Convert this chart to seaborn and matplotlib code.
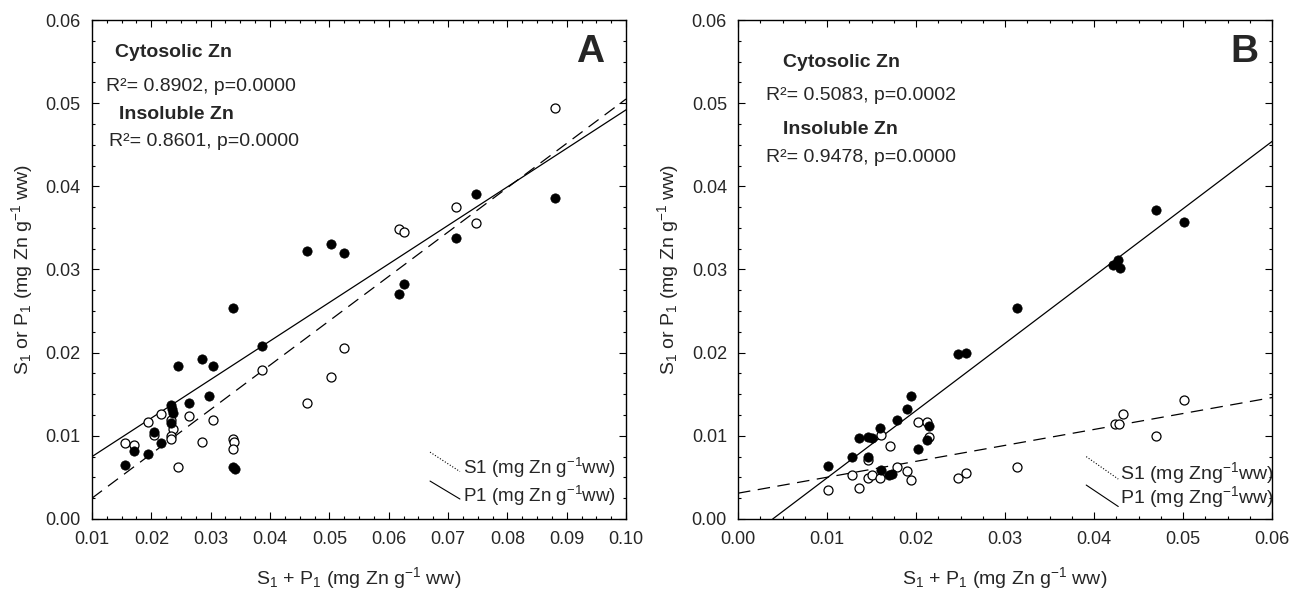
import numpy as np
import pandas as pd
import matplotlib
matplotlib.use("Agg")
import matplotlib.pyplot as plt
from matplotlib.ticker import MultipleLocator, FormatStrFormatter
import seaborn as sns

# Panel A data (filled = cytosolic S1, open = insoluble P1)
a_fill_x = [0.0156, 0.0171, 0.0195, 0.0205, 0.0217, 0.0233, 0.0235, 0.0236, 0.0233,
            0.0245, 0.0264, 0.0285, 0.0297, 0.0304, 0.0337, 0.0338, 0.0341, 0.0387,
            0.0462, 0.0502, 0.0524, 0.0617, 0.0626, 0.0713, 0.0747, 0.0880]
a_fill_y = [0.0065, 0.0082, 0.0078, 0.0104, 0.0091, 0.0137, 0.0132, 0.0127, 0.0115,
            0.0184, 0.0139, 0.0192, 0.0148, 0.0184, 0.0254, 0.0062, 0.0060, 0.0208,
            0.0322, 0.0331, 0.0320, 0.0270, 0.0283, 0.0338, 0.0391, 0.0386]
a_open_x = [0.0155, 0.0171, 0.0195, 0.0205, 0.0217, 0.0233, 0.0237, 0.0233, 0.0233,
            0.0245, 0.0264, 0.0285, 0.0304, 0.0338, 0.0339, 0.0338, 0.0387, 0.0462,
            0.0502, 0.0524, 0.0617, 0.0626, 0.0713, 0.0747, 0.0880]
a_open_y = [0.0091, 0.0089, 0.0117, 0.0101, 0.0126, 0.0119, 0.0108, 0.0100, 0.0096,
            0.0062, 0.0124, 0.0093, 0.0119, 0.0096, 0.0093, 0.0084, 0.0179, 0.0139,
            0.0171, 0.0206, 0.0349, 0.0345, 0.0375, 0.0356, 0.0494]
a_line_x = [0.01, 0.10]
a_solid_y = [0.0075, 0.0492]
a_dash_y = [0.0025, 0.0505]

# Panel B data
b_fill_x = [0.0101, 0.0128, 0.0136, 0.0146, 0.0151, 0.0146, 0.0159, 0.0161, 0.0170,
            0.0173, 0.0179, 0.0190, 0.0194, 0.0202, 0.0212, 0.0215, 0.0247, 0.0256,
            0.0313, 0.0421, 0.0427, 0.0429, 0.0470, 0.0501]
b_fill_y = [0.0064, 0.0075, 0.0097, 0.0099, 0.0097, 0.0075, 0.0110, 0.0059, 0.0053,
            0.0054, 0.0119, 0.0132, 0.0148, 0.0084, 0.0095, 0.0112, 0.0198, 0.0200,
            0.0254, 0.0306, 0.0311, 0.0302, 0.0371, 0.0357]
b_open_x = [0.0101, 0.0128, 0.0136, 0.0146, 0.0146, 0.0151, 0.0159, 0.0161, 0.0171,
            0.0179, 0.0190, 0.0194, 0.0202, 0.0212, 0.0215, 0.0247, 0.0256, 0.0313,
            0.0424, 0.0428, 0.0433, 0.0470, 0.0501]
b_open_y = [0.0035, 0.0053, 0.0037, 0.0049, 0.0071, 0.0053, 0.0049, 0.0101, 0.0088,
            0.0062, 0.0058, 0.0047, 0.0117, 0.0117, 0.0099, 0.0049, 0.0055, 0.0062,
            0.0114, 0.0114, 0.0126, 0.0100, 0.0143]
b_solid_x = [0.0039, 0.06]
b_solid_y = [0.0, 0.0454]
b_dash_x = [0.0, 0.06]
b_dash_y = [0.0031, 0.0146]

stats_a = ["R\u00b2= 0.8902, p=0.0000", "R\u00b2= 0.8601, p=0.0000"]
stats_b = ["R\u00b2= 0.5083, p=0.0002", "R\u00b2= 0.9478, p=0.0000"]

sns.set_style("ticks")
plt.rcParams["font.family"] = ["Liberation Sans", "DejaVu Sans"]
plt.rcParams["mathtext.fontset"] = "custom"
plt.rcParams["mathtext.rm"] = "Liberation Sans"
plt.rcParams["mathtext.it"] = "Liberation Sans:italic"

fig = plt.figure(figsize=(12.9, 5.94), dpi=100)
ax_a = fig.add_axes([0.0713, 0.1263, 0.414, 0.840])
ax_b = fig.add_axes([0.5721, 0.1263, 0.414, 0.840])


def draw_panel(ax, fx, fy, ox, oy, sx, sy, dx, dy):
    sns.lineplot(x=sx, y=sy, ax=ax, color="black", lw=0.9, zorder=1)
    sns.lineplot(x=dx, y=dy, ax=ax, color="black", lw=0.9, zorder=1,
                 linestyle=(0, (10, 6)))
    sns.scatterplot(x=ox, y=oy, ax=ax, color="white", edgecolor="black",
                    linewidth=0.9, s=42, zorder=2)
    sns.scatterplot(x=fx, y=fy, ax=ax, color="black", edgecolor="black",
                    linewidth=0.5, s=45, zorder=3)
    ax.set_ylim(0, 0.06)
    ax.yaxis.set_major_locator(MultipleLocator(0.01))
    ax.yaxis.set_minor_locator(MultipleLocator(0.0025))
    ax.xaxis.set_major_locator(MultipleLocator(0.01))
    ax.xaxis.set_minor_locator(MultipleLocator(0.0025))
    ax.xaxis.set_major_formatter(FormatStrFormatter("%.2f"))
    ax.yaxis.set_major_formatter(FormatStrFormatter("%.2f"))
    ax.tick_params(which="both", direction="in", top=True, right=True,
                   width=0.8, color="black")
    ax.tick_params(which="major", length=5, labelsize=13)
    ax.tick_params(axis="x", which="major", pad=9)
    ax.tick_params(axis="y", which="major", pad=8)
    ax.tick_params(which="minor", length=2.5)
    for sp in ax.spines.values():
        sp.set_visible(True)
        sp.set_linewidth(1.0)
        sp.set_color("black")
    ax.set_xlabel(r"S$_1$ + P$_1$ (mg Zn g$^{-1}$ ww)", fontsize=14, labelpad=12)
    ax.set_ylabel(r"S$_1$ or P$_1$ (mg Zn g$^{-1}$ ww)", fontsize=14, labelpad=8)


draw_panel(ax_a, a_fill_x, a_fill_y, a_open_x, a_open_y,
           a_line_x, a_solid_y, a_line_x, a_dash_y)
ax_a.set_xlim(0.01, 0.10)

draw_panel(ax_b, b_fill_x, b_fill_y, b_open_x, b_open_y,
           b_solid_x, b_solid_y, b_dash_x, b_dash_y)
ax_b.set_xlim(0.0, 0.06)

# annotations panel A
ta = ax_a.transAxes
ax_a.text(0.043, 0.934, "Cytosolic Zn", transform=ta, fontsize=14,
          fontweight="bold", va="center")
ax_a.text(0.026, 0.866, stats_a[0], transform=ta, fontsize=14, va="center")
ax_a.text(0.051, 0.810, "Insoluble Zn", transform=ta, fontsize=14,
          fontweight="bold", va="center")
ax_a.text(0.032, 0.756, stats_a[1], transform=ta, fontsize=14, va="center")
ax_a.text(0.933, 0.936, "A", transform=ta, fontsize=28, fontweight="bold",
          ha="center", va="center")
ax_a.plot([0.633, 0.689], [0.134, 0.095], transform=ta, color="black",
          lw=0.8, linestyle=":")
ax_a.plot([0.633, 0.689], [0.076, 0.040], transform=ta, color="black", lw=0.8)
ax_a.text(0.695, 0.102, r"S1 (mg Zn g$^{-1}$ww)", transform=ta, fontsize=13.5,
          va="center")
ax_a.text(0.695, 0.046, r"P1 (mg Zn g$^{-1}$ww)", transform=ta, fontsize=13.5,
          va="center")

# annotations panel B
tb = ax_b.transAxes
ax_b.text(0.084, 0.914, "Cytosolic Zn", transform=tb, fontsize=14,
          fontweight="bold", va="center")
ax_b.text(0.052, 0.848, stats_b[0], transform=tb, fontsize=14, va="center")
ax_b.text(0.084, 0.780, "Insoluble Zn", transform=tb, fontsize=14,
          fontweight="bold", va="center")
ax_b.text(0.052, 0.725, stats_b[1], transform=tb, fontsize=14, va="center")
ax_b.text(0.948, 0.936, "B", transform=tb, fontsize=28, fontweight="bold",
          ha="center", va="center")
ax_b.plot([0.652, 0.712], [0.125, 0.080], transform=tb, color="black",
          lw=0.8, linestyle=":")
ax_b.plot([0.652, 0.712], [0.068, 0.025], transform=tb, color="black", lw=0.8)
ax_b.text(0.715, 0.092, r"S1 (mg Zng$^{-1}$ww)", transform=tb,
          fontsize=14, va="center", clip_on=True)
ax_b.text(0.715, 0.044, r"P1 (mg Zng$^{-1}$ww)", transform=tb,
          fontsize=14, va="center", clip_on=True)

fig.savefig("out.png", dpi=100)
